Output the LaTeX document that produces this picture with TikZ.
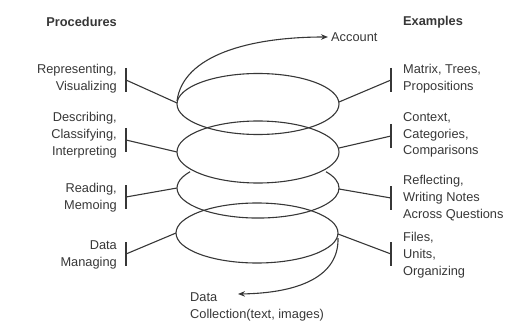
\documentclass[tikz,border=0pt]{standalone}
\usepackage{fontspec}
\setmainfont{Liberation Sans}
\usetikzlibrary{arrows.meta}
\definecolor{inkGray}{RGB}{55,55,55}
\tikzstyle{diagram} = [x = 1pt, y = -1pt]
\tikzstyle{loopLine} = [color=inkGray, line width=1.1pt]
\tikzstyle{tickLine} = [color=inkGray, line width=1.1pt]
\tikzstyle{labelText} = [text=inkGray, inner sep=0pt, font=\fontsize{12.8}{16.8}\selectfont]
\tikzstyle{headText} = [text=inkGray, inner sep=0pt, font=\fontsize{12.8}{16.8}\selectfont\bfseries]
\tikzstyle{spiralArrow} = [loopLine, -{Stealth[length=7pt, width=5.5pt]}]
\newcommand{\procedureLabel}[3]{\node [labelText, align=right, anchor=east] (#1) at (117, #2) {#3};}
\newcommand{\exampleLabel}[3]{\node [labelText, align=left, anchor=west] (#1) at (403, #2) {#3};}
\newcommand{\tickBar}[3]{\coordinate (#1) at (#2, #3); \draw [tickLine] (#2, #3 - 12) -- (#2, #3 + 12);}

\begin{document}
\begin{tikzpicture}[diagram]
  \useasboundingbox (0,0) rectangle (526,331);

  % headings
  \node [headText, anchor=east] (procedures) at (117, 22) {Procedures};
  \node [headText, anchor=west] (examples) at (403, 22) {Examples};

  % the spiral
  \draw [loopLine] (258,104) ellipse [x radius=81, y radius=30.5];
  \draw [loopLine] (258,152) ellipse [x radius=81, y radius=31];
  \draw [loopLine] (190.1,171.7) arc [start angle=213, end angle=-33, x radius=81, y radius=30];
  \draw [loopLine] (257,233) ellipse [x radius=81, y radius=30];

  \coordinate (loopOneWest) at (177,103);
  \coordinate (loopOneEast) at (339,102);
  \coordinate (loopTwoWest) at (177,152);
  \coordinate (loopTwoEast) at (339,148);
  \coordinate (loopThreeWest) at (177,188);
  \coordinate (loopThreeEast) at (339,189);
  \coordinate (loopFourWest) at (176,233);
  \coordinate (loopFourEast) at (338,234);
  \coordinate (spiralTop) at (177,101);
  \coordinate (spiralBottom) at (338,238);

  % ends of the spiral
  \node [labelText, anchor=west] (account) at (331, 37) {Account};
  \node [labelText, align=left, anchor=west] (dataCollection) at (190, 307) {Data\\Collection(text, images)};
  \coordinate (dataTip) at (238,294);
  \draw [spiralArrow] (spiralTop) .. controls (183,55) and (250,37) .. ([xshift=-3pt]account.west);
  \draw [spiralArrow] (spiralBottom) .. controls (339,276) and (300,293) .. (dataTip);

  % procedures
  \procedureLabel{representing}{79}{Representing,\\Visualizing}
  \procedureLabel{describing}{135}{Describing,\\Classifying,\\Interpreting}
  \procedureLabel{reading}{198}{Reading,\\Memoing}
  \procedureLabel{managing}{255}{Data\\Managing}
  \tickBar{representingBar}{126}{80}
  \tickBar{describingBar}{126}{140}
  \tickBar{readingBar}{126}{197}
  \tickBar{managingBar}{126}{254}
  \draw [tickLine] (representingBar) -- (loopOneWest);
  \draw [tickLine] (describingBar) -- (loopTwoWest);
  \draw [tickLine] (readingBar) -- (loopThreeWest);
  \draw [tickLine] (managingBar) -- (loopFourWest);

  % examples
  \exampleLabel{matrix}{79}{Matrix, Trees,\\Propositions}
  \exampleLabel{context}{135}{Context,\\Categories,\\Comparisons}
  \exampleLabel{reflecting}{198}{Reflecting,\\Writing Notes\\Across Questions}
  \exampleLabel{files}{255}{Files,\\Units,\\Organizing}
  \tickBar{matrixBar}{391}{80}
  \tickBar{contextBar}{391}{136}
  \tickBar{reflectingBar}{391}{198}
  \tickBar{filesBar}{391}{254}
  \draw [tickLine] (loopOneEast) -- (matrixBar);
  \draw [tickLine] (loopTwoEast) -- (contextBar);
  \draw [tickLine] (loopThreeEast) -- (reflectingBar);
  \draw [tickLine] (loopFourEast) -- (filesBar);
\end{tikzpicture}
\end{document}
